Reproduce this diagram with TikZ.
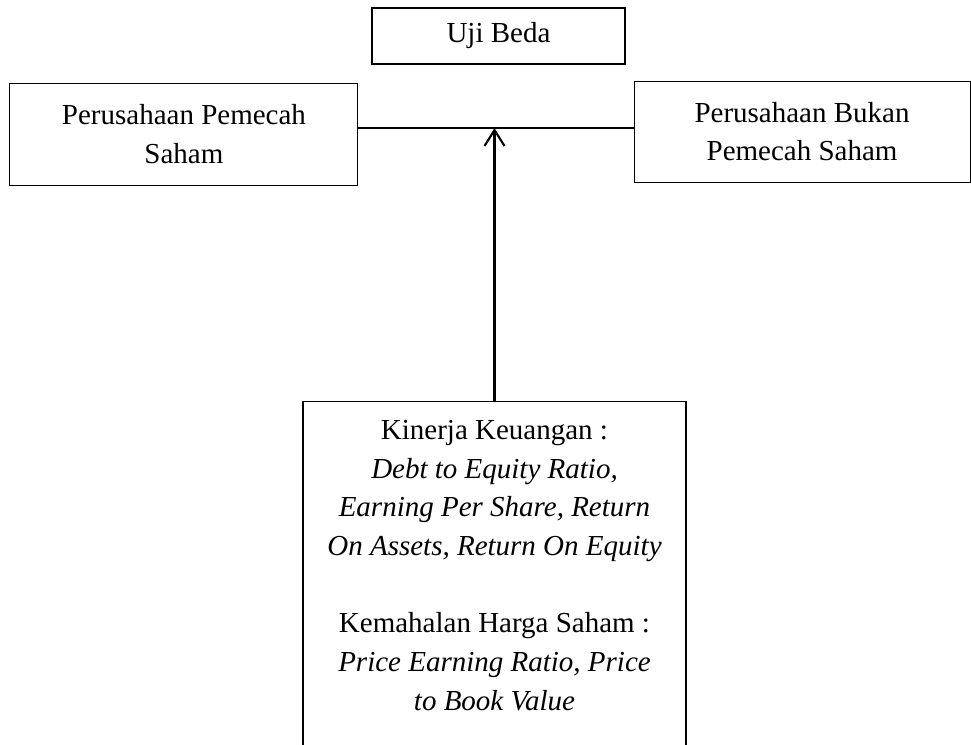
\documentclass[tikz,border=0pt]{standalone}
\usepackage{fontspec}
\setmainfont{Liberation Serif}
\usetikzlibrary{arrows.meta,positioning}
\tikzset{
  base/.style={draw=black,line width=0.8pt,align=center,inner sep=0pt,font=\fontsize{21.75pt}{29pt}\selectfont},
  test/.style={base,minimum width=189.75pt,minimum height=42pt},
  group/.style={base,minimum width=261pt,minimum height=76.5pt},
  measure/.style={base,minimum width=287.25pt,inner ysep=14.5pt},
  link/.style={line width=1.6pt,draw=black},
  flow/.style={link,-{Straight Barb[length=12pt,width=15pt]}}
}
\begin{document}
\begin{tikzpicture}[x=1pt,y=1pt]
\useasboundingbox (-373.875,27) rectangle (354.375,-531);
\node[test] (uji) at (0,0) {Uji Beda};
\node[group,below left=13.5pt and 9.75pt of uji] (split) {Perusahaan Pemecah\\Saham};
\node[group,minimum width=252pt,minimum height=75.75pt,below right=12pt and 6pt of uji] (nosplit) {Perusahaan Bukan\\Pemecah Saham};
\node[measure,below=252pt of uji,xshift=-3pt] (kinerja) {Kinerja Keuangan :\\\textit{Debt to Equity Ratio,}\\\textit{Earning Per Share, Return}\\\textit{On Assets, Return On Equity}\\[29pt]Kemahalan Harga Saham :\\\textit{Price Earning Ratio, Price}\\\textit{to Book Value}\\\mbox{}};
% level of the joining line
\coordinate (level) at (0,-69);
\coordinate (hub) at (kinerja.north |- level);
\draw[link] (hub -| split.east) -- (hub -| nosplit.west);
\draw[flow] (kinerja.north) -- (hub);
\end{tikzpicture}
\end{document}
